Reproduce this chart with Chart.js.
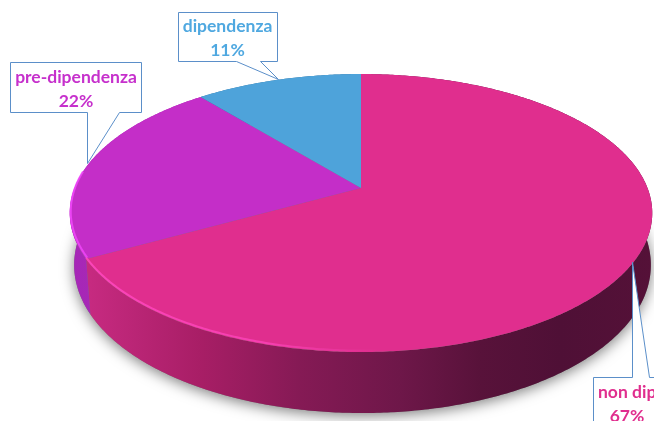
<!DOCTYPE html>
<html><head><meta charset="utf-8">
<style>html,body{margin:0;padding:0;background:#fff;overflow:hidden}canvas{display:block}</style>
<script src="https://cdn.jsdelivr.net/npm/chart.js@4"></script></head>
<body><canvas id="c" width="654" height="421"></canvas>
<script>
const categories = ["non dipendenza", "pre-dipendenza", "dipendenza"];
const shares = [67, 22, 11];
const sliceColors = ["#e02e8e", "#c42ec8", "#4ea3da"];
const textColors = ["#e02e8e", "#c630cc", "#4fa8e0"];

// perspective projection of the pie's disc
const CX = 361, CY = 188, K = -0.18, A = 134.5, B = 286.5;
const FONT = 'bold 17.5px Lato, "Open Sans", sans-serif';
function project(angle, depth) {
  const x = Math.cos(angle), y = Math.sin(angle), w = 1 + K * y;
  const shrink = depth ? 0.99 : 1;
  return [CX + (depth ? 1.5 : 0) + shrink * B * x / w, CY + A * y / w + (depth ? depth + 11 * y : 0)];
}
function samples(a0, a1) {
  const n = Math.max(2, Math.ceil(Math.abs(a1 - a0) / 0.01)), out = [];
  for (let i = 0; i <= n; i++) out.push(a0 + (a1 - a0) * i / n);
  return out;
}
function stopsGradient(ctx, x0, x1, stops) {
  const g = ctx.createLinearGradient(x0, 0, x1, 0);
  stops.forEach(s => g.addColorStop((s[0] - x0) / (x1 - x0), s[1]));
  return g;
}
function drawWall(ctx, a0, a1, fill) {
  ctx.beginPath();
  samples(a0, a1).forEach((a, i) => { const p = project(a, 0); i ? ctx.lineTo(p[0], p[1]) : ctx.moveTo(p[0], p[1]); });
  samples(a1, a0).forEach(a => { const p = project(a, 50); ctx.lineTo(p[0], p[1]); });
  ctx.closePath(); ctx.fillStyle = fill; ctx.fill();
}
const piePlugin = {
  id: 'pie3d',
  beforeDatasetsDraw(chart) {
    const ctx = chart.ctx, arcs = chart.getDatasetMeta(0).data;
    // soft ground shadow, cast by the base of the disc only
    ctx.save();
    ctx.shadowColor = 'rgba(0,0,0,0.5)'; ctx.shadowBlur = 14; ctx.shadowOffsetY = 3;
    ctx.beginPath();
    samples(0, Math.PI * 2).forEach((a, i) => { const p = project(a, 50); i ? ctx.lineTo(p[0], p[1]) : ctx.moveTo(p[0], p[1]); });
    ctx.closePath(); ctx.fillStyle = '#777'; ctx.fill();
    ctx.restore();
    const wallFills = [
      stopsGradient(ctx, 70, 654, [[70,'#c42a84'],[90,'#c62a80'],[200,'#a81e66'],[300,'#851a55'],[400,'#6e1749'],[480,'#58123a'],[560,'#4f1036'],[654,'#551138']]),
      stopsGradient(ctx, 70, 110, [[70,'#a626b8'],[110,'#a82ab4']]),
      '#2f6f9c'
    ];
    arcs.forEach((arc, i) => drawWall(ctx, arc.startAngle, arc.endAngle, wallFills[i]));
    // top face
    arcs.forEach((arc, i) => {
      ctx.beginPath(); ctx.moveTo(CX, CY);
      samples(arc.startAngle, arc.endAngle).forEach(a => { const p = project(a, 0); ctx.lineTo(p[0], p[1]); });
      ctx.closePath(); ctx.fillStyle = sliceColors[i]; ctx.fill();
    });
    // bright rim along the lit front edge
    arcs.forEach((arc, i) => {
      if (i === 2) return;
      const front = samples(arc.startAngle, arc.endAngle).filter(a => Math.sin(a) > (i === 0 ? 0.1 : -0.12));
      ctx.beginPath();
      front.forEach((a, j) => { const p = project(a, 0); p[1] -= 1.5; p[0] += (i === 1 ? 1 : 0); j ? ctx.lineTo(p[0], p[1]) : ctx.moveTo(p[0], p[1]); });
      ctx.lineWidth = 2;
      ctx.strokeStyle = i === 0
        ? stopsGradient(ctx, 70, 654, [[88,'rgba(255,70,190,.9)'],[270,'rgba(255,70,190,.7)'],[380,'rgba(255,70,190,0)'],[654,'rgba(255,70,190,0)']])
        : stopsGradient(ctx, 70, 120, [[70,'rgba(240,70,250,.9)'],[90,'rgba(240,70,250,.8)'],[100,'rgba(240,70,250,0)']]);
      ctx.stroke();
    });
    return false;
  },
  afterDraw(chart) {
    const ctx = chart.ctx;
    ctx.save();
    ctx.strokeStyle = '#5b8fc9'; ctx.lineWidth = 1; ctx.fillStyle = '#fff';
    const poly = pts => { ctx.beginPath(); pts.forEach((p, i) => i ? ctx.lineTo(p[0], p[1]) : ctx.moveTo(p[0], p[1])); };
    // callouts
    poly([[178.5,12.5],[277.5,12.5],[277.5,61.5],[260.5,61.5],[278.5,79.5],[236.5,61.5],[178.5,61.5]]); ctx.closePath(); ctx.fill(); ctx.stroke();
    poly([[10.5,62.5],[141.5,62.5],[141.5,112.5],[119.5,112.5],[87.5,163.5],[87.5,112.5],[10.5,112.5]]); ctx.closePath(); ctx.fill(); ctx.stroke();
    poly([[593.5,425],[593.5,377.5],[632.5,377.5],[632.5,262],[649.5,377.5],[660,377.5],[660,425]]); ctx.closePath(); ctx.fill(); ctx.stroke();
    // labels
    ctx.font = FONT; ctx.textBaseline = 'middle'; ctx.textAlign = 'center';
    ctx.fillStyle = textColors[2];
    ctx.fillText(categories[2], 227.5, 26); ctx.fillText(shares[2] + '%', 227.5, 50);
    ctx.fillStyle = textColors[1];
    ctx.fillText(categories[1], 76, 77); ctx.fillText(shares[1] + '%', 76, 101);
    ctx.fillStyle = textColors[0];
    ctx.textAlign = 'left';
    ctx.fillText(categories[0], 598, 392);
    ctx.textAlign = 'center';
    ctx.fillText(shares[0] + '%', 627, 416);
    ctx.restore();
  }
};
new Chart(document.getElementById('c'), {
  type: 'pie',
  data: { labels: categories, datasets: [{ data: shares, backgroundColor: sliceColors, borderWidth: 0 }] },
  options: {
    responsive: false, animation: false, rotation: 0,
    plugins: { legend: { display: false }, tooltip: { enabled: false } }
  },
  plugins: [piePlugin]
});
</script></body></html>
